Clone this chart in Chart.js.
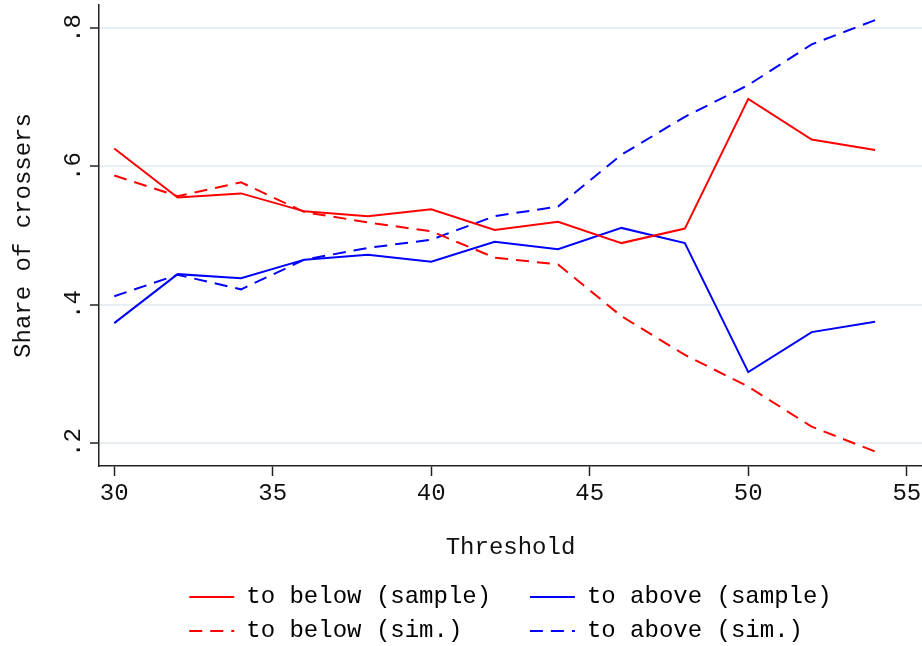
<!DOCTYPE html>
<html>
<head>
<meta charset="utf-8">
<script src="https://cdn.jsdelivr.net/npm/chart.js@4.4.0/dist/chart.umd.min.js"></script>
<style>
  html, body { margin: 0; padding: 0; background: #fff; }
</style>
</head>
<body>
<canvas id="chart" width="922" height="646"></canvas>
<script>
// Umbrales (eje X)
const thresholds = [30, 32, 34, 36, 38, 40, 42, 44, 46, 48, 50, 52, 54];

// Proporción de cruces observada en la muestra
const belowSample = [0.626, 0.555, 0.561, 0.535, 0.528, 0.538, 0.508, 0.520, 0.489, 0.510, 0.698, 0.639, 0.624];
const aboveSample = [0.373, 0.444, 0.438, 0.465, 0.472, 0.462, 0.491, 0.480, 0.511, 0.489, 0.302, 0.360, 0.375];

// Proporción de cruces simulada
const belowSim = [0.587, 0.557, 0.577, 0.534, 0.519, 0.506, 0.468, 0.458, 0.383, 0.327, 0.281, 0.223, 0.187];
const aboveSim = [0.412, 0.443, 0.422, 0.465, 0.482, 0.494, 0.528, 0.542, 0.617, 0.672, 0.718, 0.777, 0.812];

// Marcas de los ejes
const xTicks = [30, 35, 40, 45, 50, 55];
const yTicks = [0.2, 0.4, 0.6, 0.8];

const seriesNames = ['to below (sample)', 'to above (sample)', 'to below (sim.)', 'to above (sim.)'];

const font = 'Liberation Mono';
const dash = [13, 8];
const axisColor = '#222';

function toPoints(values) {
  return thresholds.map((t, i) => ({ x: t, y: values[i] }));
}

function makeDataset(i, values, color, dashed) {
  return {
    label: seriesNames[i],
    data: toPoints(values),
    borderColor: color,
    backgroundColor: color,
    borderWidth: 2,
    borderDash: dashed ? dash : [],
    pointRadius: 0,
    tension: 0,
    fill: false
  };
}

const datasets = [
  makeDataset(0, belowSample, '#ff0000', false),
  makeDataset(1, aboveSample, '#0000ff', false),
  makeDataset(2, belowSim, '#ff0000', true),
  makeDataset(3, aboveSim, '#0000ff', true)
];

// Etiquetas ".2", ".4"... como en Stata
function shortNumber(v) {
  return String(v).replace(/^0\./, '.');
}

new Chart(document.getElementById('chart'), {
  type: 'line',
  data: { datasets: datasets },
  options: {
    responsive: false,
    animation: false,
    devicePixelRatio: 1,
    layout: { padding: { left: 0, top: 5, right: 0, bottom: -7 } },
    plugins: {
      tooltip: { enabled: false },
      legend: {
        position: 'bottom',
        fullSize: false,
        labels: {
          font: { family: font, size: 24 },
          color: '#111',
          padding: 10,
          usePointStyle: true,
          pointStyleWidth: 45,
          // espacios al final para que las dos columnas queden alineadas
          generateLabels: chart => chart.data.datasets.map((ds, i) => ({
            text: ds.label.padEnd(i % 2 === 0 ? 19 : 17),
            strokeStyle: ds.borderColor,
            fillStyle: ds.borderColor,
            lineWidth: 2,
            lineDash: ds.borderDash,
            pointStyle: 'line',
            hidden: false,
            datasetIndex: i
          }))
        }
      }
    },
    scales: {
      x: {
        type: 'linear',
        min: 29.52,
        max: 55.48,
        afterBuildTicks: scale => { scale.ticks = xTicks.map(v => ({ value: v })); },
        afterFit: scale => {
          scale.height = 109;
          scale.paddingLeft = 0;
          scale.paddingRight = 0;
        },
        ticks: {
          autoSkip: false,
          maxRotation: 0,
          padding: 3,
          color: '#111',
          font: { family: font, size: 24 }
        },
        grid: {
          drawOnChartArea: false,
          drawTicks: true,
          tickLength: 10,
          tickColor: axisColor,
          tickWidth: 1.5
        },
        border: { color: axisColor, width: 1.5 },
        title: {
          display: true,
          text: 'Threshold',
          color: '#111',
          font: { family: font, size: 24 },
          padding: { top: 0, bottom: 13 }
        }
      },
      y: {
        min: 0.166,
        max: 0.834,
        afterBuildTicks: scale => { scale.ticks = yTicks.map(v => ({ value: v })); },
        afterFit: scale => {
          scale.width = 99;
          scale.paddingTop = 0;
          scale.paddingBottom = 0;
        },
        ticks: {
          autoSkip: false,
          minRotation: 90,
          maxRotation: 90,
          crossAlign: 'center',
          padding: 2,
          color: '#111',
          font: { family: font, size: 24 },
          callback: v => shortNumber(v)
        },
        grid: {
          color: '#e8eff2',
          lineWidth: 2,
          drawTicks: true,
          tickLength: 9,
          tickColor: axisColor,
          tickWidth: 1.5
        },
        border: { color: axisColor, width: 1.5 },
        title: {
          display: true,
          text: 'Share of crossers',
          color: '#111',
          font: { family: font, size: 24 },
          padding: { top: 9, bottom: 0 }
        }
      }
    }
  }
});
</script>
</body>
</html>
